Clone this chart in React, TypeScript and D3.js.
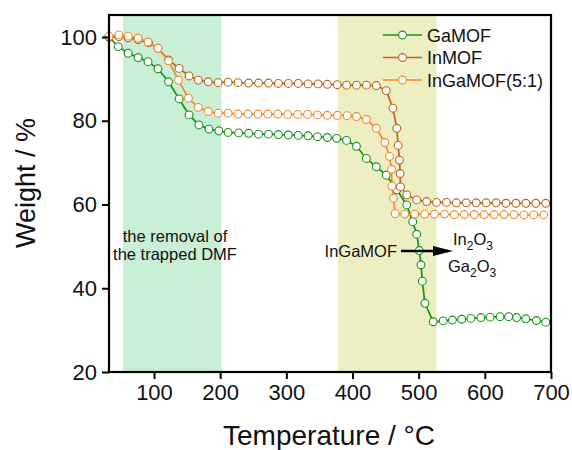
import React, { useEffect, useRef } from "react";
import * as d3 from "d3";

// [temperature (°C), weight (%)]
const gaMOF: [number, number][] = [
  [32, 100.0], [46, 97.7], [61, 96.1], [76, 95.1], [91, 94.1], [106, 92.4], [122, 89.3],
  [138, 85.2], [153, 81.4], [168, 79.0], [183, 78.0], [198, 77.6], [212, 77.2], [228, 77.1],
  [243, 77.0], [258, 76.8], [273, 76.8], [288, 76.7], [303, 76.6], [318, 76.5], [333, 76.4],
  [347, 76.2], [362, 76.0], [376, 75.8], [391, 75.3], [406, 73.9], [421, 71.0], [436, 69.0],
  [451, 67.0], [467, 63.5], [482, 59.9], [491, 55.9], [497, 52.9], [501, 49.0], [503.5, 45.6],
  [505.5, 41.7], [509.5, 36.4], [522, 32.0], [537, 32.2], [551, 32.4], [565, 32.6], [579, 32.8],
  [594, 33.0], [608, 33.1], [623, 33.2], [636, 33.2], [648, 33.0], [662, 32.7], [678, 32.3],
  [692, 31.9],
];

const inMOF: [number, number][] = [
  [32, 100.0], [47, 100.1], [61, 99.8], [76, 99.4], [92, 98.6], [106, 97.3], [122, 94.5],
  [138, 92.5], [153, 90.7], [167, 89.7], [182, 89.3], [197, 89.1], [212, 89.2], [227, 89.1],
  [243, 89.0], [258, 89.0], [273, 89.0], [288, 88.9], [303, 88.9], [318, 88.9], [333, 88.8],
  [348, 88.8], [362, 88.7], [377, 88.6], [391, 88.5], [406, 88.5], [421, 88.5], [436, 88.4],
  [451, 87.2], [461, 83.0], [467, 78.2], [469, 74.1], [471, 70.6], [472, 67.4], [472.5, 64.2],
  [482, 62.3], [497, 61.1], [512, 60.7], [527, 60.5], [542, 60.5], [557, 60.4], [572, 60.4],
  [587, 60.4], [602, 60.4], [617, 60.4], [632, 60.3], [647, 60.3], [662, 60.3], [677, 60.3],
  [692, 60.3],
];

const inGaMOF: [number, number][] = [
  [32, 100.2], [47, 100.5], [61, 100.2], [76, 99.7], [91, 98.8], [106, 97.3], [122, 94.3],
  [137, 89.7], [152, 85.4], [167, 83.2], [182, 82.2], [197, 81.8], [212, 81.8], [227, 81.6],
  [242, 81.6], [257, 81.6], [272, 81.6], [287, 81.6], [302, 81.5], [317, 81.5], [332, 81.5],
  [347, 81.4], [362, 81.3], [377, 81.3], [392, 81.2], [406, 81.0], [421, 80.3], [436, 78.2],
  [449, 74.8], [456, 71.5], [459, 68.4], [459.5, 64.4], [462, 61.5], [464.5, 57.8], [479, 57.7],
  [494, 57.7], [509, 57.7], [524, 57.7], [539, 57.7], [554, 57.6], [569, 57.6], [584, 57.6],
  [599, 57.6], [614, 57.6], [629, 57.6], [644, 57.6], [659, 57.5], [674, 57.5], [689, 57.5],
];

const seriesNames = ["GaMOF", "InMOF", "InGaMOF(5:1)"];
const seriesColors = ["#1a921a", "#b9661f", "#f28a2e"];
const xTicks = [100, 200, 300, 400, 500, 600, 700];
const yTicks = [20, 40, 60, 80, 100];
const dmfBand = [53, 202];
const oxideBand = [378, 527];

const FONT = "'Liberation Sans', Arial, sans-serif";

const App = () => {
  const ref = useRef<HTMLDivElement>(null);

  useEffect(() => {
    d3.select(ref.current).select("svg").remove();
    const W = 572, H = 450;
    const left = 109, right = 551, top = 15, bottom = 372;

    const svg = d3
      .select(ref.current)
      .append("svg")
      .attr("width", W)
      .attr("height", H)
      .style("position", "absolute")
      .style("left", "0px")
      .style("top", "0px")
      .style("font-family", FONT);

    svg.append("rect").attr("width", W).attr("height", H).attr("fill", "#fff");

    const x = d3.scaleLinear().domain([32, 700]).range([left, right]);
    const y = d3.scaleLinear().domain([20, 105.25]).range([bottom, top]);

    // shaded regions
    svg.append("rect")
      .attr("x", x(dmfBand[0])).attr("y", top)
      .attr("width", x(dmfBand[1]) - x(dmfBand[0])).attr("height", bottom - top)
      .attr("fill", "#c9efd6");
    svg.append("rect")
      .attr("x", x(oxideBand[0])).attr("y", top)
      .attr("width", x(oxideBand[1]) - x(oxideBand[0])).attr("height", bottom - top)
      .attr("fill", "#eeeec3");

    // curves
    const line = d3.line<[number, number]>().x(d => x(d[0])).y(d => y(d[1]));
    [gaMOF, inMOF, inGaMOF].forEach((data, i) => {
      const g = svg.append("g");
      g.append("path")
        .datum(data)
        .attr("fill", "none")
        .attr("stroke", seriesColors[i])
        .attr("stroke-width", 1.7)
        .attr("d", line);
      g.selectAll("circle")
        .data(data)
        .enter()
        .append("circle")
        .attr("cx", d => x(d[0]))
        .attr("cy", d => y(d[1]))
        .attr("r", 3.9)
        .attr("fill", "#fff")
        .attr("stroke", seriesColors[i])
        .attr("stroke-width", 1.1);
    });

    // frame
    svg.append("rect")
      .attr("x", left).attr("y", top)
      .attr("width", right - left).attr("height", bottom - top)
      .attr("fill", "none").attr("stroke", "#000").attr("stroke-width", 2.2);

    // x axis
    const xAxis = svg.append("g").attr("transform", `translate(0,${bottom})`);
    xAxis.call(d3.axisBottom(x).tickValues(d3.range(50, 701, 50)).tickSize(4).tickFormat(() => ""));
    xAxis.call(d3.axisBottom(x).tickValues(xTicks).tickSize(7).tickPadding(5).tickFormat(d3.format("d")));
    xAxis.select(".domain").remove();
    xAxis.selectAll("line").attr("stroke-width", 2);
    xAxis.selectAll("text").style("font-size", "22px").style("font-family", FONT).attr("fill", "#111");

    // y axis
    const yAxis = svg.append("g").attr("transform", `translate(${left},0)`);
    yAxis.call(d3.axisLeft(y).tickValues([30, 50, 70, 90]).tickSize(4).tickFormat(() => ""));
    yAxis.call(d3.axisLeft(y).tickValues(yTicks).tickSize(7).tickPadding(5).tickFormat(d3.format("d")));
    yAxis.select(".domain").remove();
    yAxis.selectAll("line").attr("stroke-width", 2);
    yAxis.selectAll("text").style("font-size", "22px").style("font-family", FONT).attr("fill", "#111");

    // axis titles
    svg.append("text")
      .attr("x", 329)
      .attr("y", 445)
      .attr("text-anchor", "middle")
      .style("font-size", "28px")
      .attr("fill", "#111")
      .text("Temperature / °C");
    svg.append("text")
      .attr("transform", "translate(35,183) rotate(-90)")
      .attr("text-anchor", "middle")
      .style("font-size", "27px")
      .attr("fill", "#111")
      .text("Weight / %");

    // legend
    seriesNames.forEach((name, i) => {
      const ly = 35 + i * 22.5;
      svg.append("line")
        .attr("x1", 383).attr("x2", 422).attr("y1", ly).attr("y2", ly)
        .attr("stroke", seriesColors[i]).attr("stroke-width", 1.7);
      svg.append("circle")
        .attr("cx", 402.5).attr("cy", ly).attr("r", 3.9)
        .attr("fill", "#fff").attr("stroke", seriesColors[i]).attr("stroke-width", 1.1);
      svg.append("text")
        .attr("x", 427).attr("y", ly + 6.5)
        .style("font-size", "18px")
        .attr("fill", "#111")
        .text(name);
    });

    // annotations
    const note = svg.append("text").attr("text-anchor", "middle").style("font-size", "16.5px").attr("fill", "#111");
    note.append("tspan").attr("x", 175).attr("y", 242).text("the removal of");
    note.append("tspan").attr("x", 175).attr("y", 260).text("the trapped DMF");

    svg.append("text")
      .attr("x", 397).attr("y", 257)
      .attr("text-anchor", "end")
      .style("font-size", "16.5px")
      .attr("fill", "#111")
      .text("InGaMOF");
    svg.append("line")
      .attr("x1", 401).attr("x2", 436).attr("y1", 251).attr("y2", 251)
      .attr("stroke", "#000").attr("stroke-width", 2.5);
    svg.append("path")
      .attr("d", "M433,246 L453,251 L433,256 Z")
      .attr("fill", "#000");

    const ox1 = svg.append("text").attr("x", 453).attr("y", 245).style("font-size", "16.5px").attr("fill", "#111");
    ox1.append("tspan").text("In");
    ox1.append("tspan").attr("dy", 5).style("font-size", "12px").text("2");
    ox1.append("tspan").attr("dy", -5).text("O");
    ox1.append("tspan").attr("dy", 5).style("font-size", "12px").text("3");

    const ox2 = svg.append("text").attr("x", 448).attr("y", 272).style("font-size", "16.5px").attr("fill", "#111");
    ox2.append("tspan").text("Ga");
    ox2.append("tspan").attr("dy", 5).style("font-size", "12px").text("2");
    ox2.append("tspan").attr("dy", -5).text("O");
    ox2.append("tspan").attr("dy", 5).style("font-size", "12px").text("3");
  }, []);

  return <div ref={ref} />;
};

export default App;
